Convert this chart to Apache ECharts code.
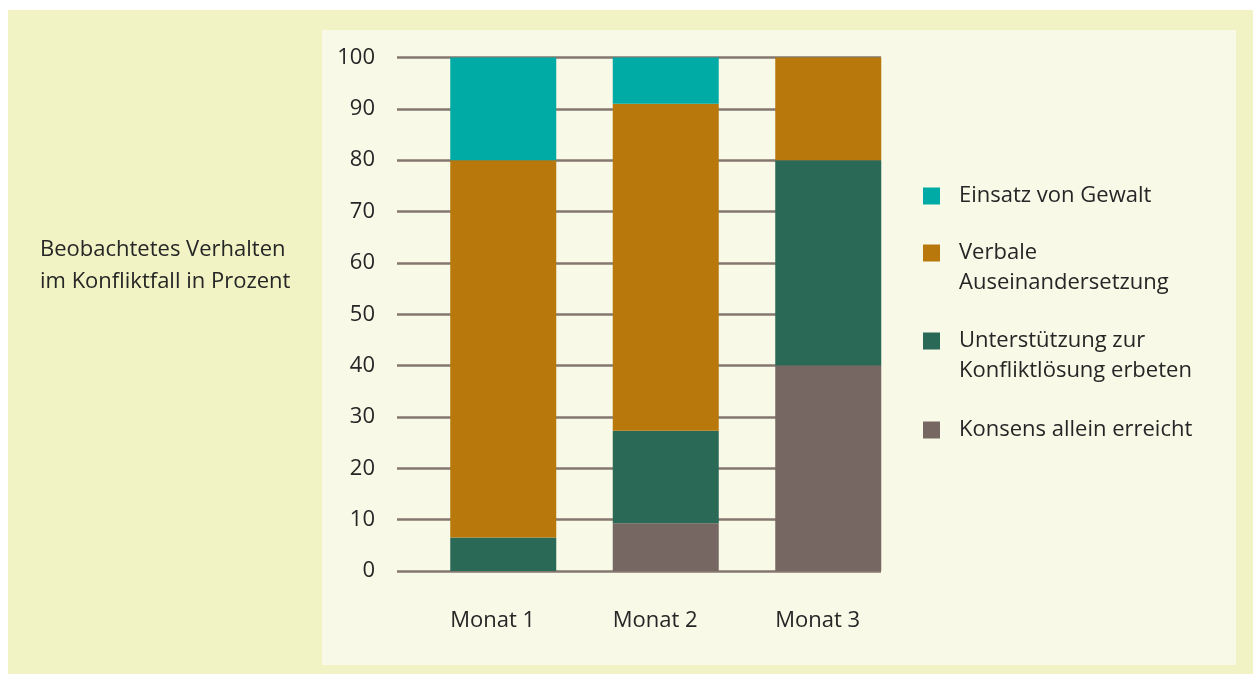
<!DOCTYPE html>
<html>
<head>
<meta charset="utf-8">
<script src="https://cdn.jsdelivr.net/npm/echarts@6/dist/echarts.min.js"></script>
<style>
html,body{margin:0;padding:0;background:#fff;}
#outer{position:absolute;left:8px;top:10px;width:1245px;height:664px;background:#f1f3c5;}
#inner{position:absolute;left:322px;top:30px;width:914px;height:635px;background:#f8f9e7;}
#chart{position:absolute;left:0;top:0;width:1253px;height:674px;}
</style>
</head>
<body>
<div id="outer"></div>
<div id="inner"></div>
<div id="chart"></div>
<script>
const categories = ['Monat 1', 'Monat 2', 'Monat 3'];
const seriesNames = ['Einsatz von Gewalt', 'Verbale\nAuseinandersetzung', 'Unterstützung zur\nKonfliktlösung erbeten', 'Konsens allein erreicht'];
const konsens = [0, 9.3, 40];
const unterstuetzung = [6.5, 18, 40];
const verbale = [73.5, 63.7, 20];
const gewalt = [20, 9, 0];
const yTicks = [0, 10, 20, 30, 40, 50, 60, 70, 80, 90, 100];

const colors = {
  gewalt: '#00aba5',
  verbale: '#b9780c',
  unter: '#2a6956',
  konsens: '#766763'
};
const FONT = 'Open Sans';
const FS = 22;
const TXT = '#262626';
const BAR_W = 106;

const chart = echarts.init(document.getElementById('chart'), null, {renderer: 'canvas'});

function legendFor(name, top, multi) {
  return {
    data: [name],
    left: 923,
    top: top,
    orient: 'vertical',
    padding: 0,
    itemWidth: 17,
    itemHeight: 17,
    icon: 'rect',
    selectedMode: false,
    formatter: n => multi ? '\n' + n : n,
    textStyle: {
      fontFamily: FONT, fontSize: FS, color: TXT, lineHeight: 30,
      padding: [0, 0, 0, 14]
    }
  };
}

const option = {
  animation: false,
  textStyle: {fontFamily: FONT},
  title: {
    text: 'Beobachtetes Verhalten\nim Konfliktfall in Prozent',
    left: 40, top: 234, padding: 0,
    textStyle: {fontFamily: FONT, fontSize: FS, fontWeight: 'normal', color: TXT, lineHeight: 32}
  },
  legend: [
    legendFor(seriesNames[0], 181, false),
    legendFor(seriesNames[1], 208, true),
    legendFor(seriesNames[2], 296, true),
    legendFor(seriesNames[3], 415, false)
  ],
  grid: [
    {left: 397, right: 372, top: 57.5, bottom: 103, containLabel: false},
    {left: 422, width: 487.5, top: 57.5, bottom: 103, containLabel: false}
  ],
  xAxis: [
    {type: 'category', gridIndex: 0, data: categories, show: false},
    {
      type: 'category', gridIndex: 1, data: categories,
      axisLine: {show: false}, axisTick: {show: false}, splitLine: {show: false},
      axisLabel: {
        interval: 0, hideOverlap: false,
        fontFamily: FONT, fontSize: FS, color: TXT, margin: 39, align: 'center',
        formatter: v => '{a|' + v + '}',
        rich: {a: {fontFamily: FONT, fontSize: FS, color: TXT, width: BAR_W, align: 'left'}}
      }
    }
  ],
  yAxis: [
    {
      type: 'value', gridIndex: 0, min: 0, max: 100, interval: 10,
      axisLine: {show: false}, axisTick: {show: false},
      axisLabel: {fontFamily: FONT, fontSize: FS, color: TXT, margin: 22,
        formatter: v => yTicks.indexOf(v) >= 0 ? String(v) : ''},
      splitLine: {show: true, lineStyle: {color: '#85776f', width: 2.5}}
    },
    {
      type: 'value', gridIndex: 1, min: 0, max: 100, interval: 10, show: false,
      splitLine: {show: false}
    }
  ],
  series: [
    {name: seriesNames[3], type: 'bar', stack: 's', xAxisIndex: 1, yAxisIndex: 1, barWidth: BAR_W, data: konsens, itemStyle: {color: colors.konsens}},
    {name: seriesNames[2], type: 'bar', stack: 's', xAxisIndex: 1, yAxisIndex: 1, barWidth: BAR_W, data: unterstuetzung, itemStyle: {color: colors.unter}},
    {name: seriesNames[1], type: 'bar', stack: 's', xAxisIndex: 1, yAxisIndex: 1, barWidth: BAR_W, data: verbale, itemStyle: {color: colors.verbale}},
    {name: seriesNames[0], type: 'bar', stack: 's', xAxisIndex: 1, yAxisIndex: 1, barWidth: BAR_W, data: gewalt, itemStyle: {color: colors.gewalt}}
  ]
};
chart.setOption(option);
</script>
</body>
</html>
